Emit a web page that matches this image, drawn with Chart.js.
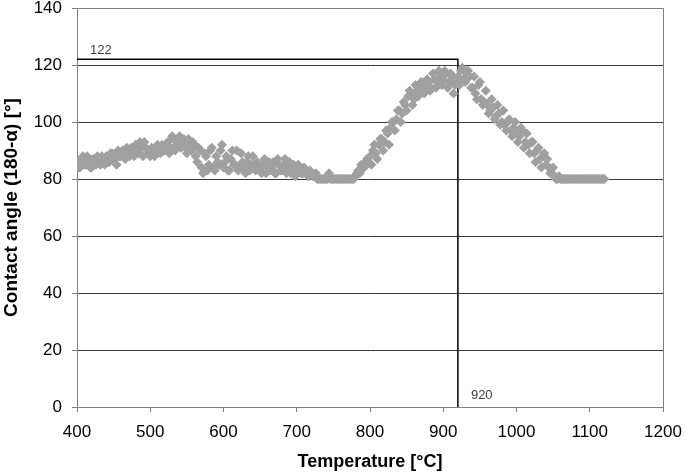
<!DOCTYPE html>
<html><head><meta charset="utf-8">
<script src="https://cdn.jsdelivr.net/npm/chart.js@4"></script>
<style>html,body{margin:0;padding:0;background:#fff}#wrap{width:685px;height:473px}</style>
</head><body><div id="wrap"><canvas id="c" width="685" height="473"></canvas></div>
<script>
const tempA = [400,404,408,412,416,420,424,428,432,436,
440,444,448,452,456,460,464,468,472,476,
480,484,488,492,496,500,504,508,512,516,
520,524,528,532,536,540,544,548,552,556,
560,564,568,572,576,580,584,588,592,596,
600,604,608,612,616,620,624,628,632,636,
640,644,648,652,656,660,664,668,672,676,
680,684,688,692,696,700,704,708,712,716,
720,724,728,732,736,740,744,748,752,756,
760,764,768,772,776,780,784,788,792,796,
800,804,808,812,816,820,824,828,832,836,
840,844,848,852,856,860,864,868,872,876,
880,884,888,892,896,900,904,908,912,916,
920,924,928,932,936,940,944,948,952,956,
960,964,968,972,976,980,984,988,992,996,
1000,1004,1008,1012,1016,1020,1024,1028,1032,1036,
1040,1044,1048,1052,1056,1060,1064,1068,1072,1076,
1080,1084,1088,1092,1096,1100,1104,1108,1112,1116,1120];
const angleA = [86,84,88,85,87,84,86,88,85,87,
88,86,89,87,90,88,89,91,88,90,
92,89,91,93,90,88,90,89,91,92,
90,93,91,94,92,95,93,91,94,90,
92,86,90,82,88,85,91,83,86,90,
84,88,83,90,85,83,89,84,86,83,
88,83,85,82,87,84,83,86,82,85,
83,87,84,82,85,83,84,82,83,81,
82,81,80,80,80,80,82,80,80,80,
80,80,80,80,80,81,83,85,84,87,
88,90,89,92,94,93,96,98,100,101,
104,103,106,109,110,108,111,112,111,113,
114,112,115,114,116,115,117,114,116,113,
116,118,115,117,116,112,110,113,108,107,
106,104,105,102,103,100,99,100,97,98,
96,95,97,93,92,93,89,90,87,88,
85,84,82,81,80,80,80,80,80,80,
80,80,80,80,80,80,80,80,80,80,80];
const tempB = [402,406,410,414,418,422,426,430,434,438,
442,446,450,454,458,462,466,470,474,478,
482,486,490,494,498,502,506,510,514,518,
522,526,530,534,538,542,546,550,554,558,
562,566,570,574,578,582,586,590,594,598,
602,606,610,614,618,622,626,630,634,638,
642,646,650,654,658,662,666,670,674,678,
682,686,690,694,698,702,706,710,714,718,
722,726,730,734,738,742,746,750,754,758,
762,766,770,774,778,782,786,790,794,798,
802,806,810,814,818,822,826,830,834,838,
842,846,850,854,858,862,866,870,874,878,
882,886,890,894,898,902,906,910,914,918,
922,926,930,934,938,942,946,950,954,958,
962,966,970,974,978,982,986,990,994,998,
1002,1006,1010,1014,1018,1022,1026,1030,1034,1038,
1042,1046,1050,1054,1058,1062,1066,1070,1074,1078,
1082,1086,1090,1094,1098,1102,1106,1110,1114,1118];
const angleB = [84,87,85,88,84,87,85,86,88,85,
86,89,87,85,88,90,87,89,91,88,
90,93,88,91,89,91,88,92,89,90,
92,89,95,90,93,91,94,89,92,93,
88,91,84,89,83,90,84,88,85,92,
86,83,87,85,90,84,86,82,88,85,
84,86,83,85,82,86,84,82,87,83,
85,82,86,83,81,85,82,84,82,83,
81,82,80,80,80,80,80,80,80,80,
80,80,80,80,80,82,82,84,86,86,
85,92,87,94,90,97,92,100,97,104,
100,107,104,111,106,113,109,114,110,115,
111,117,112,118,113,118,112,117,110,114,
113,119,114,118,112,116,108,114,106,111,
103,108,101,106,99,104,97,101,95,100,
93,98,91,96,89,93,86,91,84,89,
87,82,84,80,81,80,80,80,80,80,
80,80,80,80,80,80,80,80,80,80];
const markT = 920;
const markAngle = 122;
const xTicks = [400,500,600,700,800,900,1000,1100,1200];
const yTicks = [0,20,40,60,80,100,120,140];

const points = tempA.map((t,i)=>({x:t,y:angleA[i]}))
  .concat(tempB.map((t,i)=>({x:t,y:angleB[i]})));
const guide = [{x:400,y:markAngle},{x:markT,y:markAngle},{x:markT,y:0}];

const FONT = '"Liberation Sans", Arial, sans-serif';
const labelPlugin = {
  id:'labels',
  afterDatasetsDraw(chart){
    const {ctx, scales:{x,y}} = chart;
    ctx.save();
    ctx.font = '13px ' + FONT;
    ctx.fillStyle = '#404040';
    ctx.textBaseline = 'alphabetic';
    ctx.textAlign = 'left';
    ctx.fillText(String(markAngle), x.getPixelForValue(400)+13, y.getPixelForValue(markAngle)-5);
    ctx.fillText(String(markT), x.getPixelForValue(markT)+13, y.getPixelForValue(0)-8);
    ctx.restore();
  },
  afterDraw(chart){
    const {ctx, chartArea:a} = chart;
    ctx.save();
    ctx.strokeStyle = '#808080';
    ctx.lineWidth = 1;
    ctx.beginPath();
    ctx.moveTo(Math.round(a.left)+0.5, Math.round(a.top)+0.5);
    ctx.lineTo(Math.round(a.right)+0.5, Math.round(a.top)+0.5);
    ctx.lineTo(Math.round(a.right)+0.5, Math.round(a.bottom)+0.5);
    ctx.stroke();
    ctx.restore();
  }
};

new Chart(document.getElementById('c'), {
  type:'scatter',
  data:{datasets:[
    {data:points, pointStyle:'rectRot', pointRadius:5, pointHoverRadius:5,
     backgroundColor:'#a0a0a0', borderColor:'#a0a0a0', borderWidth:0, showLine:false},
    {data:guide, showLine:true, borderColor:'#000', borderWidth:1.5, pointRadius:0, fill:false, clip:false}
  ]},
  options:{
    responsive:false, animation:false,
    plugins:{legend:{display:false}, tooltip:{enabled:false}},
    layout:{padding:{top:8,right:22,left:0,bottom:0}},
    scales:{
      x:{type:'linear', min:400, max:1200,
        afterBuildTicks(s){s.ticks = xTicks.map(v=>({value:v}));},
        afterFit(s){s.height = 66; s.paddingLeft = 0; s.paddingRight = 0;},
        grid:{drawOnChartArea:false, color:'#808080', tickColor:'#808080', tickLength:5},
        border:{color:'#808080'},
        ticks:{color:'#000', callback:(v)=>String(v), font:{family:FONT, size:17}, padding:10, maxRotation:0},
        title:{display:true, text:'Temperature [°C]', color:'#000', font:{family:FONT, size:18, weight:'bold'}, padding:{top:0,bottom:0}}
      },
      y:{type:'linear', min:0, max:140,
        afterBuildTicks(s){s.ticks = yTicks.map(v=>({value:v}));},
        afterFit(s){s.width = 77; s.paddingTop = 0; s.paddingBottom = 0;},
        grid:{color:(c)=> (c.tick && (c.tick.value===140||c.tick.value===0)) ? '#808080' : '#3a3a3a', tickColor:'#808080', tickLength:5},
        border:{color:'#808080'},
        ticks:{color:'#000', callback:(v)=>String(v), font:{family:FONT, size:17}, padding:10},
        title:{display:true, text:'Contact angle (180-α) [°]', color:'#000', font:{family:FONT, size:19, weight:'bold'}, padding:{top:0,bottom:0}}
      }
    }
  },
  plugins:[labelPlugin]
});
</script></body></html>
